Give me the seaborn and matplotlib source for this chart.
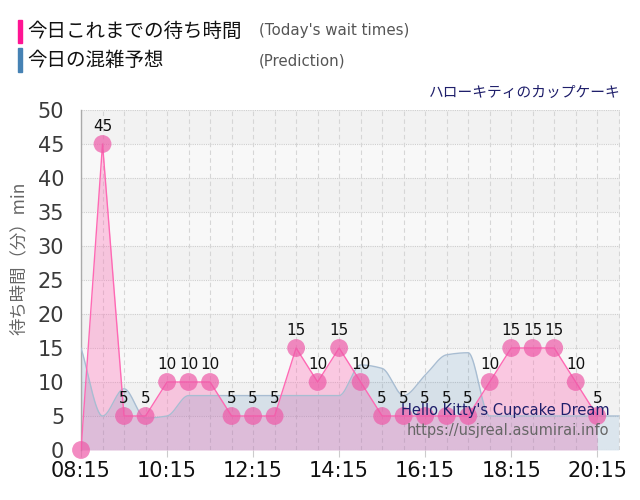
import numpy as np
import pandas as pd
import seaborn as sns
import matplotlib.pyplot as plt

# half-hour slots from 08:15
hours = [8.25 + 0.5 * i for i in range(25)]
wait = [0, 45, 5, 5, 10, 10, 10, 5, 5, 5, 15, 10, 15, 10, 5, 5, 5, 5, 5, 10, 15, 15, 15, 10, 5]

pred_hours = [8.25 + 0.5 * i for i in range(26)]
pred = [15, 5, 9, 4.7, 5, 8, 8, 8, 8, 8, 8, 8, 8, 12.5, 12, 8, 11, 14, 14.3, 5,
        5, 5, 5, 5, 5, 5]

tick_hours = [8.25, 10.25, 12.25, 14.25, 16.25, 18.25, 20.25]
tick_labels = ["08:15", "10:15", "12:15", "14:15", "16:15", "18:15", "20:15"]


def pchip(x, y, xs):
    x = np.asarray(x, float)
    y = np.asarray(y, float)
    h = np.diff(x)
    d = np.diff(y) / h
    m = np.zeros_like(y)
    m[0], m[-1] = d[0], d[-1]
    for k in range(1, len(x) - 1):
        if d[k - 1] * d[k] > 0:
            w1 = 2 * h[k] + h[k - 1]
            w2 = h[k] + 2 * h[k - 1]
            m[k] = (w1 + w2) / (w1 / d[k - 1] + w2 / d[k])
    idx = np.clip(np.searchsorted(x, xs) - 1, 0, len(x) - 2)
    t = (xs - x[idx]) / h[idx]
    h00 = 2 * t**3 - 3 * t**2 + 1
    h10 = t**3 - 2 * t**2 + t
    h01 = -2 * t**3 + 3 * t**2
    h11 = t**3 - t**2
    return h00 * y[idx] + h10 * h[idx] * m[idx] + h01 * y[idx + 1] + h11 * h[idx] * m[idx + 1]


df = pd.DataFrame({"hour": hours, "wait": wait})
xs = np.linspace(pred_hours[0], pred_hours[-1], 800)
pf = pd.DataFrame({"hour": xs, "pred": pchip(pred_hours, pred, xs)})

sns.set_style("white")
plt.rcParams["font.family"] = ["DejaVu Sans", "Noto Sans CJK JP"]

fig = plt.figure(figsize=(6.4, 5), dpi=100)
ax = fig.add_axes([0.1266, 0.1, 0.8422, 0.68])
ax.set_facecolor("#f8f8f8")
for lo in range(5, 50, 10):
    ax.axhspan(lo, lo + 5, color="#f2f2f2", zorder=0, lw=0)

for yv in range(0, 51, 5):
    ax.axhline(yv, color="#cfcfcf", lw=0.8, ls=(0, (1, 1)), zorder=0.5)
for xv in pred_hours:
    ax.axvline(xv, color="#d6d6d6", lw=0.8, ls=(0, (4, 3)), zorder=0.5)

ax.fill_between(df["hour"], df["wait"], color="#ff69b4", alpha=0.33, lw=0, zorder=1)
ax.fill_between(pf["hour"], pf["pred"], color="#4682b4", alpha=0.16, lw=0, zorder=2)
sns.lineplot(data=pf, x="hour", y="pred", ax=ax, color="#a8bdd2", lw=1, zorder=3)
sns.lineplot(data=df, x="hour", y="wait", ax=ax, color="#ff69b4", lw=1, zorder=4)
sns.scatterplot(data=df, x="hour", y="wait", ax=ax, color="#ee5aa8", alpha=0.7,
                s=165, edgecolor="none", zorder=5, clip_on=False)

for hx, w in zip(hours, wait):
    if w > 0:
        ax.annotate(str(w), (hx, w), xytext=(0, 7.5), textcoords="offset points",
                    ha="center", va="bottom", fontsize=11, color="#111111", zorder=6)

ax.set_xlim(8.25, 20.78)
ax.set_ylim(0, 50)
ax.set_xticks(tick_hours)
ax.set_xticklabels(tick_labels, fontsize=15, color="#111111")
ax.set_yticks(range(0, 51, 5))
ax.set_yticklabels([str(v) for v in range(0, 51, 5)], fontsize=15, color="#3a3a3a")
ax.tick_params(axis="x", length=5, color="#cccccc", pad=3, bottom=True)
ax.tick_params(axis="y", length=0, pad=12)
ax.set_xlabel("")
ax.set_ylabel("")
for s in ["top", "right", "bottom"]:
    ax.spines[s].set_visible(False)
ax.spines["left"].set_color("#aaaaaa")
ax.spines["left"].set_linewidth(1)

jp = ["Noto Sans CJK JP", "DejaVu Sans"]
fig.text(0.03, 0.484, "待ち時間（分）min", rotation=90, ha="center", va="center",
         fontsize=12.5, color="#666666", family=jp)

fig.add_artist(plt.Rectangle((0.028, 0.914), 0.007, 0.046, color="#ff1493",
                             transform=fig.transFigure))
fig.add_artist(plt.Rectangle((0.028, 0.856), 0.007, 0.048, color="#4682b4",
                             transform=fig.transFigure))
fig.text(0.043, 0.937, "今日これまでの待ち時間", fontsize=14, va="center",
         color="#111111", family=jp)
fig.text(0.043, 0.879, "今日の混雑予想", fontsize=14, va="center",
         color="#111111", family=jp)
fig.text(0.405, 0.938, "(Today's wait times)", fontsize=10.8, va="center", color="#555555")
fig.text(0.405, 0.879, "(Prediction)", fontsize=10.8, va="center", color="#555555")
fig.text(0.969, 0.815, "ハローキティのカップケーキ", fontsize=10.6, ha="right",
         va="center", color="#1f1f6b", family=jp)

ax.text(0.98, 0.115, "Hello Kitty's Cupcake Dream", transform=ax.transAxes,
        ha="right", va="center", fontsize=10.5, color="#1f1f6b", zorder=7)
ax.text(0.98, 0.056, "https://usjreal.asumirai.info", transform=ax.transAxes,
        ha="right", va="center", fontsize=10.5, color="#666666", zorder=7)

fig.savefig("out.png", dpi=100)
